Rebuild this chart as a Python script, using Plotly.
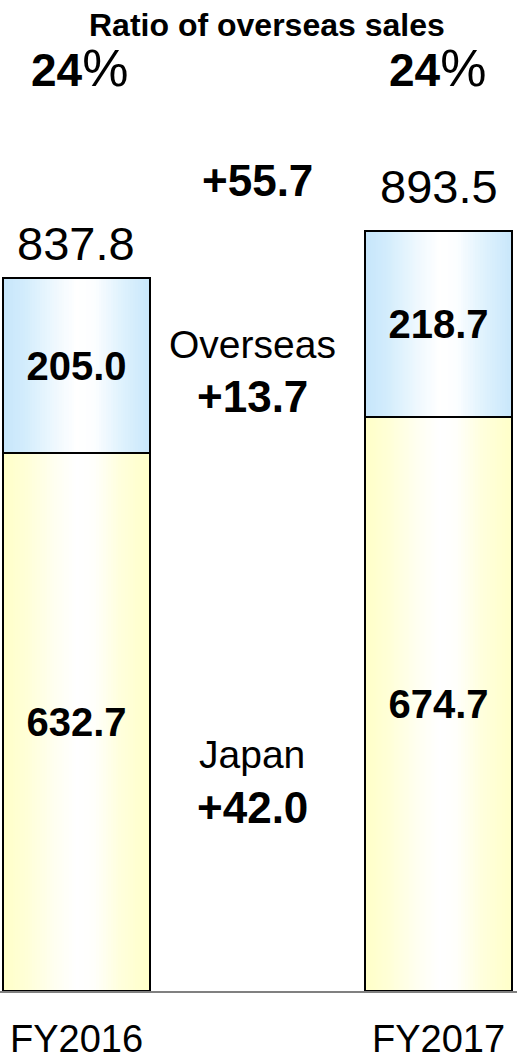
import numpy as np
import plotly.graph_objects as go

# ---- data ----
categories = ["FY2016", "FY2017"]
japan = [632.7, 674.7]
overseas = [205.0, 218.7]
totals = [837.8, 893.5]
ratio_labels = ["24", "24"]
diff_total = "+55.7"
diff_overseas = "+13.7"
diff_japan = "+42.0"
title_text = "Ratio of overseas sales"

# ---- style ----
FONT = "Arial, 'Liberation Sans', sans-serif"
W = 0.406          # bar width (x units)
PLOT_BOTTOM = 991  # pixel row of the baseline
Y_MAX = 1165
X_RANGE = [-0.2113, 1.2168]
N = 60
total_offsets = [35, 44]  # px above bar tops

def py(px):
    """pixel row -> paper y"""
    return (PLOT_BOTTOM - px) / PLOT_BOTTOM

x_pos = list(range(len(categories)))

# gradient profiles (t across bar, colour)
blue_prof = [(0.0, "#c6e6fb"), (0.15, "#d3ecfc"), (0.35, "#eef8fe"), (0.5, "#ffffff"),
             (0.62, "#fcfeff"), (0.8, "#e0f2fd"), (1.0, "#c8e7fb")]
yel_prof = [(0.0, "#ffffc8"), (0.15, "#ffffd6"), (0.35, "#fffff0"), (0.5, "#ffffff"),
            (0.62, "#fffffb"), (0.8, "#ffffdc"), (1.0, "#ffffc8")]
colorscale = [[p / 3, c] for p, c in yel_prof] + [[(2 + p) / 3, c] for p, c in blue_prof]

fig = go.Figure()

# gradient fills under the bars
t = (np.arange(N) + 0.5) / N
for i in x_pos:
    xe = np.linspace(i - W / 2, i + W / 2, N + 1)
    ye = [0, japan[i], japan[i] + overseas[i]]
    fig.add_trace(go.Heatmap(x=xe, y=ye, z=[t, t + 2], zmin=0, zmax=3,
                             colorscale=colorscale, showscale=False, hoverinfo="skip"))

bar_style = dict(color="rgba(0,0,0,0)", line=dict(color="black", width=2))
txt_font = dict(size=40, color="black", family=FONT, weight="bold")
fig.add_trace(go.Bar(x=x_pos, y=japan, width=W, marker=bar_style,
                     text=[f"{v:.1f}" for v in japan], textposition="inside",
                     insidetextanchor="middle", textangle=0, textfont=txt_font,
                     hoverinfo="skip"))
fig.add_trace(go.Bar(x=x_pos, y=overseas, width=W, marker=bar_style,
                     text=[f"{v:.1f}" for v in overseas], textposition="inside",
                     insidetextanchor="middle", textangle=0, textfont=txt_font,
                     hoverinfo="skip"))

ann = []
# totals above bars
for i in x_pos:
    ann.append(dict(x=i, y=totals[i], xref="x", yref="y", text=f"{totals[i]:.1f}",
                    showarrow=False, yanchor="middle", yshift=total_offsets[i],
                    font=dict(size=47, family=FONT, color="black")))
# ratio labels
ratio_x = [0.0083, 0.9959]
for i in x_pos:
    ann.append(dict(x=ratio_x[i], y=py(68), xref="x", yref="paper",
                    text=f"<b>{ratio_labels[i]}</b><span style='font-size:52px'>%</span>",
                    showarrow=False, yanchor="middle",
                    font=dict(size=46, family=FONT, color="black")))
# title
ann.append(dict(x=0.526, y=py(25), xref="x", yref="paper", text=f"<b>{title_text}</b>",
                showarrow=False, yanchor="middle", font=dict(size=32, family=FONT, color="black")))
# middle labels
ann.append(dict(x=0.5, y=py(181), xref="x", yref="paper", text=f"<b>{diff_total}</b>",
                showarrow=False, yanchor="middle", font=dict(size=44, family=FONT, color="black")))
ann.append(dict(x=0.485, y=py(344), xref="x", yref="paper", text="Overseas",
                showarrow=False, yanchor="middle", font=dict(size=39, family=FONT, color="black")))
ann.append(dict(x=0.485, y=py(397), xref="x", yref="paper", text=f"<b>{diff_overseas}</b>",
                showarrow=False, yanchor="middle", font=dict(size=44, family=FONT, color="black")))
ann.append(dict(x=0.485, y=py(754), xref="x", yref="paper", text="Japan",
                showarrow=False, yanchor="middle", font=dict(size=39, family=FONT, color="black")))
ann.append(dict(x=0.485, y=py(807), xref="x", yref="paper", text=f"<b>{diff_japan}</b>",
                showarrow=False, yanchor="middle", font=dict(size=44, family=FONT, color="black")))

fig.update_layout(
    width=517, height=1064,
    margin=dict(l=0, r=0, t=0, b=1064 - PLOT_BOTTOM, pad=0),
    paper_bgcolor="white", plot_bgcolor="white",
    barmode="stack", showlegend=False,
    annotations=ann,
    xaxis=dict(range=X_RANGE, tickvals=x_pos, ticktext=categories, showgrid=False,
               zeroline=False, showline=True, linecolor="#808080", linewidth=2,
               ticks="", ticklabelstandoff=13, automargin=False,
               tickfont=dict(size=38, family=FONT, color="black"), fixedrange=True),
    yaxis=dict(range=[0, Y_MAX], visible=False, showgrid=False, zeroline=False,
               fixedrange=True),
)

fig.write_html("out.html")
